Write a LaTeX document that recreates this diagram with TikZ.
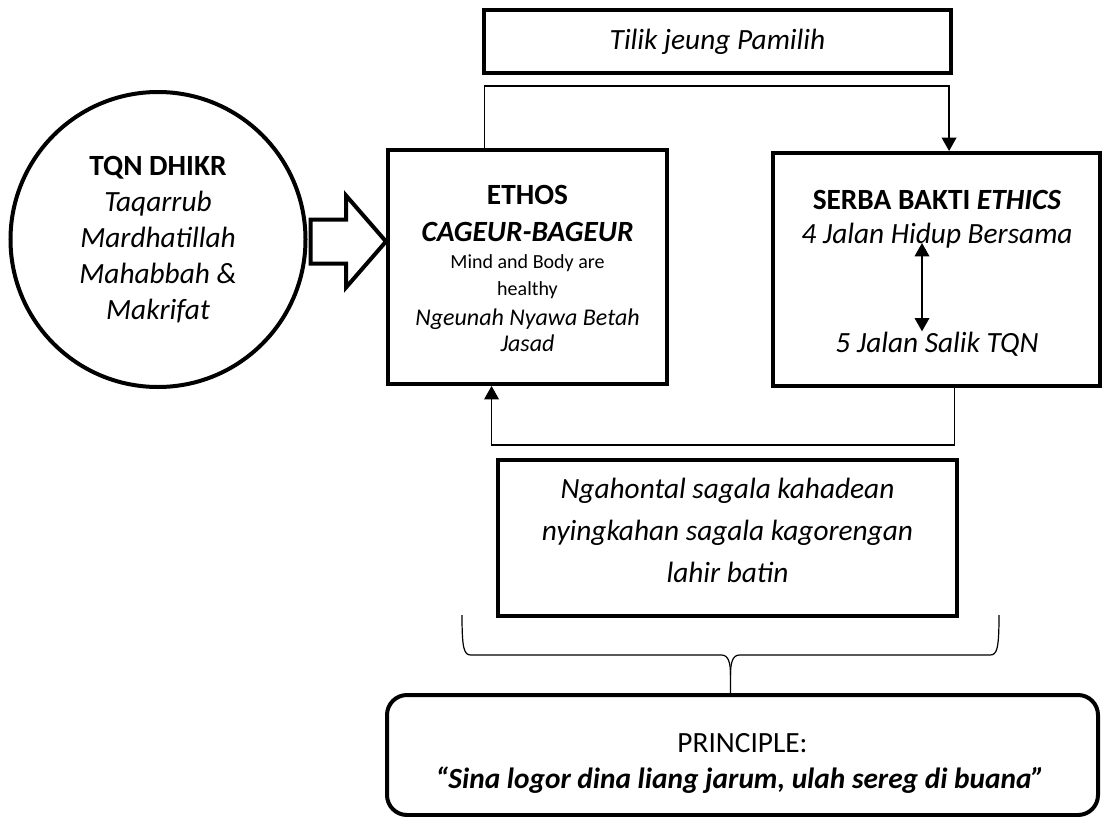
\documentclass[tikz,border=0pt]{standalone}
\usepackage{fontspec}
\setmainfont{Carlito}
\usetikzlibrary{arrows.meta,calc}
\begin{document}
\begin{tikzpicture}[x=0.75pt,y=-0.75pt,
  box/.style={draw,line width=3pt,rectangle,align=center,inner sep=0pt},
  conn/.style={line width=1pt},
  tipend/.style={-{Triangle[length=10pt,width=11pt]}},
  bothends/.style={{Triangle[length=10pt,width=11pt]}-{Triangle[length=10pt,width=11pt]}},
  big/.style={font=\fontsize{22}{27}\selectfont},
  line/.style={anchor=base,inner sep=0pt}]
\useasboundingbox (0,0) rectangle (1106,817);

% top box
\node[box,big,minimum width=467*0.75pt,minimum height=63*0.75pt] (tilik) at (717.5,41.5) {\itshape Tilik jeung Pamilih};

% circle
\node[draw,circle,line width=3pt,minimum size=295*0.75pt,inner sep=0pt,align=center,big] (circ) at (158,239.5)
  {{\bfseries TQN DHIKR}\\{\itshape Taqarrub}\\{\itshape Mardhatillah}\\{\itshape Mahabbah \&}\\{\itshape Makrifat}};

% ETHOS box
\node[box,minimum width=279*0.75pt,minimum height=234*0.75pt] (ethos) at (527.5,267) {};
\node[line,big] (e1) at (527.5,204) {\bfseries ETHOS};
\node[line,big] (e2) at (527.5,241) {\bfseries\itshape CAGEUR-BAGEUR};
\node[line,font=\fontsize{15}{20}\selectfont] (e3) at (527.5,268) {Mind and Body are};
\node[line,font=\fontsize{15}{20}\selectfont] (e4) at (527.5,295) {healthy};
\node[line,font=\fontsize{18}{22}\selectfont] (e5) at (527.5,325) {\itshape Ngeunah Nyawa Betah};
\node[line,font=\fontsize{18}{22}\selectfont] (e6) at (527.5,351) {\itshape Jasad};

% SERBA BAKTI box
\node[box,minimum width=327*0.75pt,minimum height=233*0.75pt] (serba) at (936.5,269.5) {};
\node[line,big] (s1) at (937,209) {\bfseries SERBA BAKTI \textit{ETHICS}};
\node[line,big] (s2) at (937,243) {\itshape 4 Jalan Hidup Bersama};
\node[line,big] (s3) at (937,352) {\itshape 5 Jalan Salik TQN};
\draw[line width=1pt,bothends] ($(s2.base)+(-15,0)$) -- ($(s3.north)+(-15,0)$);

% block arrow from circle to ETHOS
\coordinate (ba) at ($(circ.east)+(3,2)$);
\coordinate (bt) at (ethos.west |- ba);
\draw[line width=3pt,line join=miter,fill=white]
  ($(ba)+(0,-22)$) -- ($(bt)+(-40,-22)$) -- ($(bt)+(-40,-46)$) -- (bt)
  -- ($(bt)+(-40,46)$) -- ($(bt)+(-40,22)$) -- ($(ba)+(0,22)$) -- cycle;

% top connector
\coordinate (ca) at ($(ethos.north west)!0.348!(ethos.north east)$);
\coordinate (cb) at ($(tilik.south)+(0,11)$);
\coordinate (cc) at ($(serba.north west)!0.538!(serba.north east)$);
\draw[conn,tipend] (ca) |- (cb) -| (cc);

% feedback connector
\coordinate (fa) at ($(serba.south west)!0.554!(serba.south east)$);
\coordinate (fb) at ($(serba.south)+(0,57)$);
\coordinate (fc) at ($(ethos.south west)!0.373!(ethos.south east)$);
\draw[conn,tipend] (fa) |- (fb) -| (fc);

% Ngahontal box
\node[box,minimum width=459*0.75pt,minimum height=156*0.75pt] (ngah) at (727.5,538) {};
\node[align=center,inner sep=0pt,font=\fontsize{22}{31.5}\selectfont] (ngtext) at (727.5,530)
  {{\itshape Ngahontal sagala kahadean}\\{\itshape nyingkahan sagala kagorengan}\\{\itshape lahir batin}};

% Principle box
\node[box,rounded corners=15pt,minimum width=711*0.75pt,minimum height=120*0.75pt] (prin) at (742.5,755) {};
\node[line,big] (p1) at (742.5,752) {PRINCIPLE:};
\node[line,big] (p2) at (740,788) {\bfseries\itshape “Sina logor dina liang jarum, ulah sereg di buana”};

% brace
\coordinate (bl) at ($(ngah.south west)+(-34,-3)$);
\coordinate (br) at ($(ngah.south east)+(40,-3)$);
\coordinate (tp) at ($(bl)!0.5!(br)$);
\coordinate (tq) at (tp |- prin.north);
\draw[line width=0.9pt]
  (bl) .. controls ($(bl)+(0,34)$) and ($(bl)+(2,40)$) .. ($(bl)+(9,40)$)
  -- ($(tp)+(-9,40)$) .. controls ($(tp)+(-2,40)$) and ($(tp)+(0,48)$) .. ($(tp)+(0,60)$) -- (tq);
\draw[line width=0.9pt]
  (br) .. controls ($(br)+(0,34)$) and ($(br)+(-2,40)$) .. ($(br)+(-9,40)$)
  -- ($(tp)+(9,40)$) .. controls ($(tp)+(2,40)$) and ($(tp)+(0,48)$) .. ($(tp)+(0,60)$);
\end{tikzpicture}
\end{document}
